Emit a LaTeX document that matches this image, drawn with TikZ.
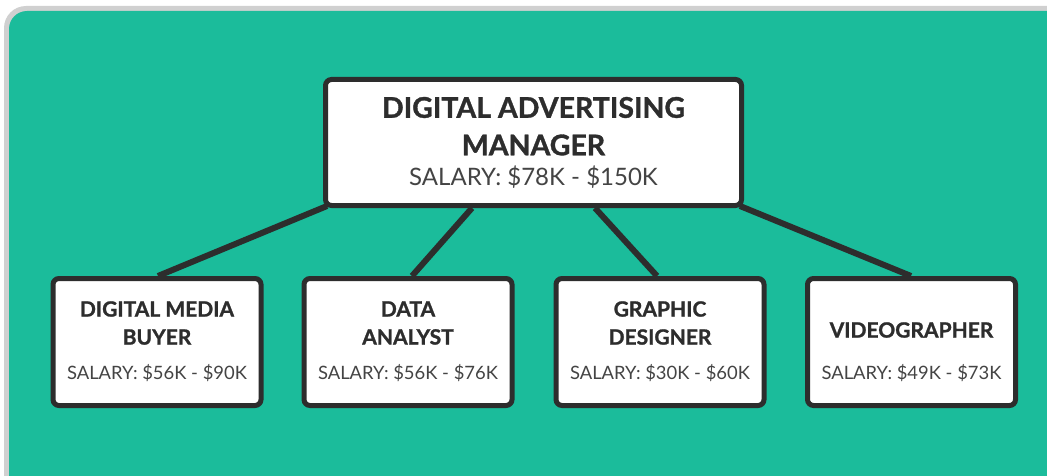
\documentclass[tikz,border=0pt]{standalone}
\usepackage{fontspec}
\setmainfont{Lato}
\newfontfamily\headfont[BoldFeatures={FakeBold=1.2}]{Lato}
\definecolor{teal1}{HTML}{1BBC9B}
\definecolor{frame1}{HTML}{D0D0D0}
\definecolor{ink}{HTML}{2D2D2D}
\definecolor{saltxt}{HTML}{444444}
\tikzset{
  box/.style={draw=ink, line width=5pt, fill=white, rounded corners=6pt, inner sep=0pt},
  topbox/.style={box, minimum width=416pt, minimum height=126pt},
  subbox/.style={box, minimum width=208pt, minimum height=127pt},
  link/.style={draw=ink, line width=6pt},
  toptitle/.style={font=\headfont\bfseries\fontsize{28.5}{32}\selectfont, text=ink, inner sep=0pt},
  topsal/.style={font=\fontsize{24}{28}\selectfont, text=saltxt, inner sep=0pt},
  subtitle/.style={font=\headfont\bfseries\fontsize{21}{28}\selectfont, text=ink, inner sep=0pt, align=center},
  subsal/.style={font=\fontsize{18.4}{23}\selectfont, text=saltxt, inner sep=0pt},
}
\begin{document}
\begin{tikzpicture}[x=1pt,y=-1pt]
\useasboundingbox (0,0) rectangle (1047,476);
\begin{scope}
\clip (0,0) rectangle (1047,476);
\fill[frame1] (4,6) [rounded corners=22pt] rectangle (1070,500);
\fill[teal1] (9,11) [rounded corners=18pt] rectangle (1070,500);
\end{scope}
% connectors first
\coordinate (t1) at (327,206);
\coordinate (t2) at (472,208);
\coordinate (t3) at (595,208);
\coordinate (t4) at (740,206);
\coordinate (e1) at (158,276);
\coordinate (e2) at (412,276);
\coordinate (e3) at (657,276);
\coordinate (e4) at (911,276);
\draw[link] (t1) -- (e1);
\draw[link] (t2) -- (e2);
\draw[link] (t3) -- (e3);
\draw[link] (t4) -- (e4);
% boxes
\node[topbox] (top) at (533.5,142.5) {};
\node[subbox] (b1) at (157,342) {};
\node[subbox] (b2) at (408,342) {};
\node[subbox] (b3) at (660,342) {};
\node[subbox] (b4) at (911.5,342) {};
% texts
\node[toptitle] (tt1) at (533.5,107.5) {DIGITAL ADVERTISING};
\node[toptitle] (tt2) at (533.5,145) {MANAGER};
\node[topsal] (ts) at (533.5,177) {SALARY: \$78K - \$150K};
\node[subtitle] (s1) at (157,323) {DIGITAL MEDIA\\BUYER};
\node[subsal] (p1) at (157,373) {SALARY: \$56K - \$90K};
\node[subtitle] (s2) at (408,323) {DATA\\ANALYST};
\node[subsal] (p2) at (408,373) {SALARY: \$56K - \$76K};
\node[subtitle] (s3) at (660,323) {GRAPHIC\\DESIGNER};
\node[subsal] (p3) at (660,373) {SALARY: \$30K - \$60K};
\node[subtitle] (s4) at (911.5,330) {VIDEOGRAPHER};
\node[subsal] (p4) at (911.5,373) {SALARY: \$49K - \$73K};
\end{tikzpicture}
\end{document}
